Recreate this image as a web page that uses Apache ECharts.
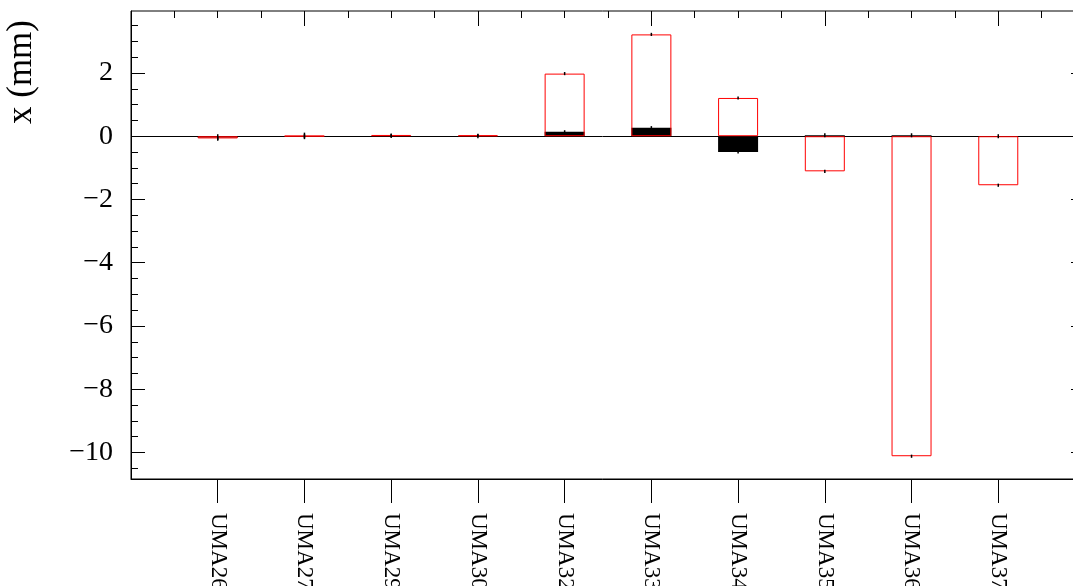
<!DOCTYPE html>
<html>
<head>
<meta charset="utf-8">
<script src="https://cdn.jsdelivr.net/npm/echarts@6/dist/echarts.min.js"></script>
<style>
  html, body { margin: 0; padding: 0; background: #fff; }
  #chart { width: 1073px; height: 586px; }
</style>
</head>
<body>
<div id="chart"></div>
<script>
// stations along the bottom axis
const stations = ['UMA26', 'UMA27', 'UMA29', 'UMA30', 'UMA32', 'UMA33', 'UMA34', 'UMA35', 'UMA36', 'UMA37']
// red outlined bars (mm)
const redValues = [-0.07, 0.01, 0.04, 0.03, 1.98, 3.22, 1.21, -1.11, -10.12, -1.55]
const redErrors = [0.05, 0.04, 0.05, 0.05, 0.05, 0.05, 0.05, 0.05, 0.05, 0.05]
// black filled bars (mm)
const blackValues = [-0.04, 0.0, 0.01, 0.0, 0.14, 0.27, -0.5, 0.03, 0.03, 0.0]
const blackErrors = [0.04, 0.0, 0.0, 0.0, 0.05, 0.05, 0.05, 0.0, 0.0, 0.0]
// y axis ticks
const yMajorTicks = [-10, -8, -6, -4, -2, 0, 2]
const yMinorTicks = [-10.5, -9.5, -9, -8.5, -7.5, -7, -6.5, -5.5, -5, -4.5, -3.5, -3, -2.5,
                     -1.5, -1, -0.5, 0.5, 1, 1.5, 2.5, 3, 3.5]
// top axis ticks (in bin units, 0..11)
const topMajorTicks = [2, 4, 6, 8, 10]
const topMinorTicks = [0.5, 1, 1.5, 2.5, 3, 3.5, 4.5, 5, 5.5, 6.5, 7, 7.5, 8.5, 9, 9.5, 10.5]

const yMin = -10.84
const yMax = 3.96
const font = 'Liberation Serif'

// pad categories so each station sits one bin inside the frame
const catData = [''].concat(stations, [''])
const pad = arr => [null].concat(arr, [null])

const errData = []
stations.forEach(function (s, i) {
    errData.push([i + 1, redValues[i], redErrors[i]])
    errData.push([i + 1, blackValues[i], blackErrors[i]])
})

const chart = echarts.init(document.getElementById('chart'))

function yAxisBase(extra) {
    return Object.assign({
        type: 'value',
        min: yMin,
        max: yMax,
        splitLine: { show: false },
        axisLine: { show: false, onZero: false },
        axisLabel: { show: false },
        axisTick: { show: false }
    }, extra)
}

function topAxis(ticks, len) {
    return {
        type: 'value',
        position: 'top',
        min: 0,
        max: 11,
        splitLine: { show: false },
        axisLine: { show: false, onZero: false },
        axisLabel: { show: false },
        axisTick: {
            show: true, inside: true, length: len, customValues: ticks,
            lineStyle: { color: '#000', width: 1 }
        }
    }
}

const option = {
    animation: false,
    grid: {
        left: 131, top: 11, width: 954, height: 468,
        outerBoundsMode: 'none',
        containLabel: false,
        show: true, borderColor: '#000', borderWidth: 1, backgroundColor: 'transparent'
    },
    xAxis: [
        {
            type: 'category',
            data: catData,
            boundaryGap: false,
            position: 'bottom',
            axisLine: { show: true, onZero: false, lineStyle: { color: '#000', width: 1 } },
            axisTick: {
                show: true, inside: false, length: 24,
                interval: function (index, value) { return value !== '' },
                lineStyle: { color: '#000', width: 1 }
            },
            axisLabel: {
                interval: 0, rotate: -90, margin: 34,
                fontFamily: font, fontSize: 23, color: '#000'
            },
            splitLine: { show: false }
        },
        topAxis(topMajorTicks, 15),
        topAxis(topMinorTicks, 7)
    ],
    yAxis: [
        yAxisBase({
            position: 'left',
            axisLine: { show: true, onZero: false, lineStyle: { color: '#000', width: 1 } },
            axisTick: {
                show: true, inside: true, length: 14, customValues: yMajorTicks,
                lineStyle: { color: '#000', width: 1 }
            },
            axisLabel: {
                show: true, customValues: yMajorTicks, margin: 18,
                fontFamily: font, fontSize: 28, color: '#000',
                formatter: function (v) { return String(v).replace('-', '\u2212') }
            }
        }),
        yAxisBase({
            position: 'left',
            axisTick: {
                show: true, inside: true, length: 7, customValues: yMinorTicks,
                lineStyle: { color: '#000', width: 1 }
            }
        }),
        yAxisBase({
            position: 'right',
            axisTick: {
                show: true, inside: true, length: 14, customValues: yMajorTicks,
                lineStyle: { color: '#000', width: 1 }
            }
        })
    ],
    graphic: [
        {
            type: 'text',
            x: 22, y: 20,
            rotation: Math.PI / 2,
            style: {
                text: 'x (mm)',
                fontFamily: font,
                fontSize: 35,
                fill: '#000',
                align: 'right',
                verticalAlign: 'middle'
            }
        }
    ],
    series: [
        {
            name: 'zero',
            type: 'line',
            data: [],
            z: 1,
            markLine: {
                silent: true,
                z: 1,
                symbol: 'none',
                label: { show: false },
                lineStyle: { color: '#000', type: 'solid', width: 1 },
                data: [{ yAxis: 0 }]
            }
        },
        {
            name: 'black',
            type: 'bar',
            data: pad(blackValues),
            barWidth: 40,
            barGap: '-100%',
            z: 2,
            itemStyle: { color: '#000' }
        },
        {
            name: 'red',
            type: 'bar',
            data: pad(redValues),
            barWidth: 40,
            barGap: '-100%',
            z: 3,
            itemStyle: { color: 'rgba(0,0,0,0)', borderColor: '#ff0000', borderWidth: 1 }
        },
        {
            name: 'errors',
            type: 'custom',
            data: errData,
            z: 5,
            renderItem: function (params, api) {
                const x = api.value(0)
                const v = api.value(1)
                const e = api.value(2)
                const p1 = api.coord([x, v - e])
                const p2 = api.coord([x, v + e])
                if (Math.abs(p1[1] - p2[1]) < 3) {
                    p1[1] += 2
                    p2[1] -= 2
                }
                return {
                    type: 'line',
                    shape: { x1: p1[0], y1: p1[1], x2: p2[0], y2: p2[1] },
                    style: { stroke: '#000', lineWidth: 1.5 }
                }
            }
        }
    ]
}

chart.setOption(option)
</script>
</body>
</html>
